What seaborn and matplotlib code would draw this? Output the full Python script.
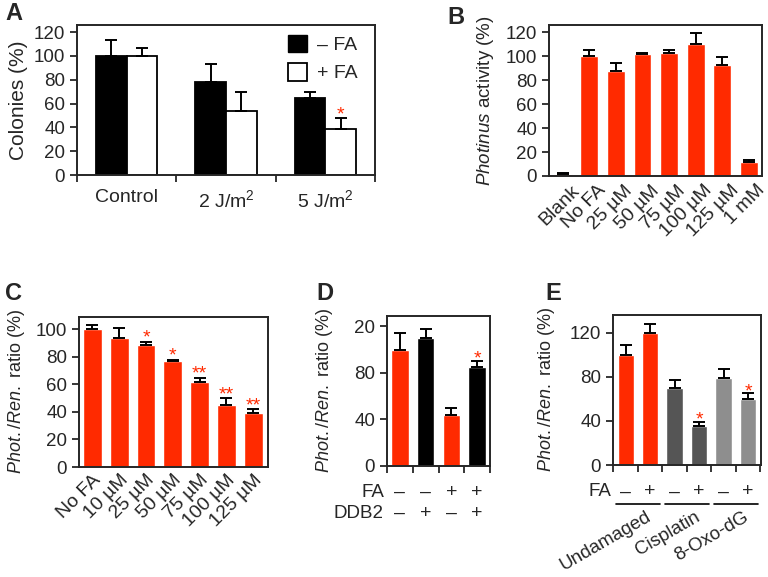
import matplotlib
matplotlib.use('Agg')
import matplotlib.pyplot as plt
import matplotlib.transforms as mtransforms
from matplotlib.patches import Patch
import pandas as pd
import seaborn as sns

RED = '#ff2a00'
DARK = '#555555'
LIGHT = '#8e8e8e'

# panel A - colonies
a_groups = ['Control', '2 J/m$^2$', '5 J/m$^2$']
a_minus = [100, 78, 65]
a_minus_err = [13, 15, 5]
a_plus = [100, 54, 39]
a_plus_err = [7, 16, 9]
a_plus_stars = ['', '', '*']

# panel B - photinus activity
b_labels = ['Blank', 'No FA', '25 µM', '50 µM', '75 µM', '100 µM', '125 µM', '1 mM']
b_vals = [2, 100, 88, 102, 103, 110, 93, 12]
b_err = [0.8, 5, 6, 1, 2.5, 9, 6, 1.5]

# panel C - dose response
c_labels = ['No FA', '10 µM', '25 µM', '50 µM', '75 µM', '100 µM', '125 µM']
c_vals = [100, 94, 89, 77, 62, 45, 39]
c_err = [3, 7, 2, 1, 3, 5, 3]
c_stars = ['', '', '*', '*', '**', '**', '**']

# panel D - DDB2
d_fa = ['–', '–', '+', '+']
d_ddb2 = ['–', '+', '–', '+']
d_vals = [100, 110, 44, 85]
d_err = [14, 8, 6, 5]
d_colors = [RED, 'black', RED, 'black']
d_stars = ['', '', '', '*']

# panel E - lesions
e_groups = ['Undamaged', 'Cisplatin', '8-Oxo-dG']
e_fa = ['–', '+', '–', '+', '–', '+']
e_vals = [100, 120, 70, 35, 79, 60]
e_err = [9, 8, 7, 4, 8, 5]
e_colors = [RED, RED, DARK, DARK, LIGHT, LIGHT]
e_stars = ['', '', '', '*', '', '*']

sns.set_style('ticks')
plt.rcParams['font.family'] = ['Liberation Sans', 'DejaVu Sans']
plt.rcParams['mathtext.fontset'] = 'custom'
plt.rcParams['mathtext.rm'] = 'Liberation Sans'
plt.rcParams['mathtext.it'] = 'Liberation Sans:italic'
plt.rcParams['axes.linewidth'] = 1.4
plt.rcParams['xtick.major.width'] = 1.3
plt.rcParams['ytick.major.width'] = 1.3
plt.rcParams['xtick.minor.width'] = 1.3
plt.rcParams['xtick.direction'] = 'out'
plt.rcParams['ytick.direction'] = 'out'


def add_errors(ax, vals, errs, stars=None, gap=7.5):
    bars = sorted(ax.patches, key=lambda p: p.get_x())
    xs = [p.get_x() + p.get_width() / 2 for p in bars]
    ax.errorbar(xs, vals, yerr=[[0] * len(errs), errs], fmt='none',
                ecolor='black', elinewidth=1.4, capsize=4, capthick=1.4, zorder=1)
    if stars:
        for x, v, e, s in zip(xs, vals, errs, stars):
            if s:
                ax.annotate(s, (x, v + e + gap), xytext=(0, -8), textcoords='offset points',
                            ha='center', va='baseline', color=RED, fontsize=14)


def box(ax):
    for s in ax.spines.values():
        s.set_visible(True)
        s.set_linewidth(1.4)


fig = plt.figure(figsize=(7.68, 5.77), dpi=100)
W, H = 768, 577


def axes_px(l, t, r, b):
    return fig.add_axes([l / W, 1 - b / H, (r - l) / W, (b - t) / H])


# ---------- A ----------
ax = axes_px(77, 25, 375, 175)
dfa = pd.DataFrame({'group': a_groups * 2,
                    'fa': ['– FA'] * 3 + ['+ FA'] * 3,
                    'val': a_minus + a_plus})
sns.barplot(data=dfa, x='group', y='val', hue='fa', palette=['black', 'white'],
            width=0.62, edgecolor='black', linewidth=1.3, legend=False, ax=ax)
# errors follow x order: ctrl-, ctrl+, 2J-, 2J+, ...
vals = [v for pair in zip(a_minus, a_plus) for v in pair]
errs = [v for pair in zip(a_minus_err, a_plus_err) for v in pair]
stars = [s for pair in zip(['', '', ''], a_plus_stars) for s in pair]
add_errors(ax, vals, errs, stars, gap=8)
ax.set_ylim(0, 126)
ax.set_xlim(-0.5, 2.5)
ax.set_yticks(range(0, 121, 20))
ax.set_xticks([-0.5, 0.5, 1.5, 2.5], minor=True)
ax.tick_params(axis='x', which='major', length=0, labelsize=14, pad=10)
ax.tick_params(axis='x', which='minor', length=5)
ax.tick_params(axis='y', labelsize=13.5, length=5)
ax.set_xlabel('')
ax.set_ylabel('Colonies (%)', fontsize=15, labelpad=4)
ax.legend(handles=[Patch(facecolor='black', edgecolor='black', label='– FA'),
                   Patch(facecolor='white', edgecolor='black', linewidth=1.3, label='+ FA')],
          loc='upper right', bbox_to_anchor=(1.0, 1.05), frameon=False, fontsize=14,
          handlelength=1.0, handleheight=1.0, handletextpad=0.5, labelspacing=0.45)
box(ax)

# ---------- B ----------
ax = axes_px(549, 25, 762, 176)
sns.barplot(x=b_labels, y=b_vals, color=RED, saturation=1, width=0.67, ax=ax)
add_errors(ax, b_vals, b_err)
ax.set_ylim(0, 126)
ax.set_xlim(-0.52, 7.5)
ax.set_yticks(range(0, 121, 20))
ax.tick_params(axis='y', labelsize=13.5, length=5)
ax.tick_params(axis='x', length=0, labelsize=14, pad=2)
shift = mtransforms.ScaledTranslation(8 / 100, -3 / 100, fig.dpi_scale_trans)
for lab in ax.get_xticklabels():
    lab.set_rotation(45)
    lab.set_ha('right')
    lab.set_rotation_mode('anchor')
    lab.set_transform(lab.get_transform() + shift)
ax.set_ylabel(r'$\mathit{Photinus}$ activity (%)', fontsize=13.5, labelpad=7)
box(ax)

# ---------- C ----------
ax = axes_px(79, 317, 268, 467)
sns.barplot(x=c_labels, y=c_vals, color=RED, saturation=1, width=0.7, ax=ax)
add_errors(ax, c_vals, c_err, c_stars, gap=7.5)
ax.set_ylim(0, 109)
ax.set_xlim(-0.5, 6.55)
ax.set_yticks(range(0, 101, 20))
ax.tick_params(axis='y', labelsize=13.5, length=5)
ax.tick_params(axis='x', length=0, labelsize=14, pad=3)
plt.setp(ax.get_xticklabels(), rotation=45, ha='right', rotation_mode='anchor')
ax.set_ylabel(r'$\mathit{Phot./Ren.}$ ratio (%)', fontsize=13, labelpad=6)
box(ax)

# ---------- D ----------
ax = axes_px(387, 316, 490, 466)
d_x = [str(i) for i in range(len(d_vals))]
sns.barplot(x=d_x, y=d_vals, hue=d_x, palette=d_colors, saturation=1,
            width=0.68, legend=False, ax=ax)
add_errors(ax, d_vals, d_err, d_stars, gap=8)
ax.set_ylim(0, 129)
ax.set_xlim(-0.5, 3.5)
ax.set_yticks([0, 40, 80, 120])
ax.set_yticklabels(['0', '40', '80', '20'])
ax.set_xticks([])
ax.set_xticks([-0.5, 0.5, 1.5, 2.5, 3.5], minor=True)
ax.tick_params(axis='x', which='minor', length=5)
ax.tick_params(axis='y', labelsize=13.5, length=5)
ax.set_ylabel(r'$\mathit{Phot./Ren.}$ ratio (%)', fontsize=13, labelpad=14)
trans = mtransforms.blended_transform_factory(ax.transData, ax.transAxes)
ax.text(-0.62, -0.175, 'FA', transform=trans, ha='right', va='center', fontsize=13.5)
ax.text(-0.62, -0.315, 'DDB2', transform=trans, ha='right', va='center', fontsize=13.5)
for i, (f, d) in enumerate(zip(d_fa, d_ddb2)):
    ax.text(i, -0.175, f, transform=trans, ha='center', va='center', fontsize=14)
    ax.text(i, -0.315, d, transform=trans, ha='center', va='center', fontsize=14)
box(ax)

# ---------- E ----------
ax = axes_px(613, 315, 761, 465)
e_x = [str(i) for i in range(len(e_vals))]
sns.barplot(x=e_x, y=e_vals, hue=e_x, palette=e_colors, saturation=1,
            width=0.67, legend=False, ax=ax)
add_errors(ax, e_vals, e_err, e_stars, gap=7.5)
ax.set_ylim(0, 136)
ax.set_xlim(-0.52, 5.53)
ax.set_yticks([0, 40, 80, 120])
ax.set_xticks([])
ax.set_xticks([i - 0.5 for i in range(7)], minor=True)
ax.tick_params(axis='x', which='minor', length=5)
ax.tick_params(axis='y', labelsize=13.5, length=5)
ax.set_ylabel(r'$\mathit{Phot./Ren.}$ ratio (%)', fontsize=13, labelpad=9)
trans = mtransforms.blended_transform_factory(ax.transData, ax.transAxes)
ax.text(-0.6, -0.18, 'FA', transform=trans, ha='right', va='center', fontsize=13.5)
for i, f in enumerate(e_fa):
    ax.text(i, -0.18, f, transform=trans, ha='center', va='center', fontsize=14)
for g, name in enumerate(e_groups):
    ax.plot([2 * g - 0.4, 2 * g + 1.4], [-0.26, -0.26], transform=trans,
            color='black', lw=1.2, clip_on=False)
    ax.text(2 * g + 0.8, -0.29, name, transform=trans, ha='right', va='top',
            rotation=30, rotation_mode='anchor', fontsize=13.5)
box(ax)

# panel letters
for letter, x, y in [('A', 5, 14), ('B', 447, 17), ('C', 5, 294), ('D', 316, 294), ('E', 545, 294)]:
    fig.text(x / W, 1 - y / H, letter, fontsize=17, fontweight='bold', ha='left', va='center')

fig.savefig('out.png', dpi=100)
